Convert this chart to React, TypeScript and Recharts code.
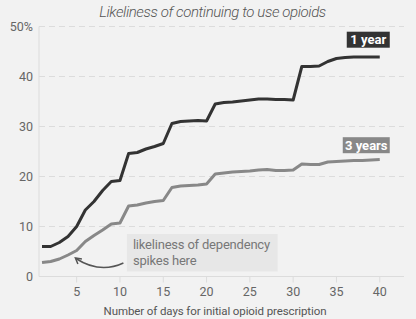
import { LineChart, Line, XAxis, YAxis, CartesianGrid, ReferenceArea, Label } from 'recharts';

const days = [
  1, 2, 3, 4, 5, 6, 7, 8, 9, 10, 11, 12, 13, 14, 15, 16, 17, 18, 19, 20,
  21, 22, 23, 24, 25, 26, 27, 28, 29, 30, 31, 32, 33, 34, 35, 36, 37, 38, 39, 40,
];
const oneYear = [
  6.0, 6.0, 6.8, 8.0, 10.0, 13.3, 15.0, 17.2, 19.0, 19.2,
  24.6, 24.8, 25.5, 26.0, 26.6, 30.6, 31.0, 31.1, 31.2, 31.1,
  34.5, 34.8, 34.9, 35.1, 35.3, 35.5, 35.5, 35.4, 35.4, 35.3,
  42.0, 42.0, 42.1, 43.0, 43.6, 43.8, 43.9, 43.9, 43.9, 43.9,
];
const threeYears = [
  2.8, 3.0, 3.5, 4.3, 5.2, 7.0, 8.2, 9.3, 10.5, 10.7,
  14.1, 14.3, 14.7, 15.0, 15.2, 17.8, 18.1, 18.2, 18.3, 18.5,
  20.5, 20.7, 20.9, 21.0, 21.1, 21.3, 21.4, 21.2, 21.2, 21.3,
  22.5, 22.4, 22.4, 22.9, 23.0, 23.1, 23.2, 23.2, 23.3, 23.4,
];
const xTicks = [5, 10, 15, 20, 25, 30, 35, 40];
const yTicks = [0, 10, 20, 30, 40, 50];

const data = days.map((day, i) => ({ day, oneYear: oneYear[i], threeYears: threeYears[i] }));

const FONT = 'Roboto, "Liberation Sans", sans-serif';

// tag drawn next to the last point of a series
const endTag = (text: string, fill: string, w: number, dy: number) => (props: any) => {
  const { cx, cy, index } = props;
  if (index !== days.length - 1) return <g key={index} />;
  return (
    <g key={index}>
      <rect x={cx + 10 - w} y={cy + dy - 16} width={w} height={16} fill={fill} />
      <text x={cx + 10 - w / 2} y={cy + dy - 3.5} textAnchor="middle" fill="#fff" fontSize={13} fontWeight={700} fontFamily={FONT}>
        {text}
      </text>
    </g>
  );
};

const Annotation = (props: any) => {
  const { x, y } = props.viewBox;
  return (
    <g fontFamily={FONT}>
      <text x={x + 6} y={y + 15} fill="#777" fontSize={13} letterSpacing={-0.2}>likeliness of dependency</text>
      <text x={x + 6} y={y + 30.5} fill="#777" fontSize={13} letterSpacing={-0.2}>spikes here</text>
      <path d={`M${x - 3.5} ${y + 29} Q${x - 27} ${y + 40} ${x - 51} ${y + 24.5}`} fill="none" stroke="#555" strokeWidth={1.5} />
      <path d={`M${x - 45} ${y + 25} L${x - 51.5} ${y + 24} L${x - 49} ${y + 30}`} fill="none" stroke="#555" strokeWidth={1.5} />
    </g>
  );
};

export default function App() {
  return (
    <div style={{ position: 'absolute', left: 0, top: 0, width: 416, height: 319, background: '#f2f2f2', fontFamily: FONT }}>
      <div style={{ position: 'absolute', top: 3, left: 0, width: 425, textAlign: 'center', fontSize: 15, letterSpacing: -0.4, fontStyle: 'italic', fontWeight: 300, color: '#555' }}>
        Likeliness of continuing to use opioids
      </div>
      <LineChart width={416} height={319} data={data} margin={{ top: 26.5, right: 12, bottom: 12.5, left: 0 }}>
        <CartesianGrid vertical={false} stroke="#dcdcdc" strokeDasharray="6 4" />
        <ReferenceArea x1={10.8} x2={28.2} y1={1} y2={8.5} fill="#e7e7e7" fillOpacity={1} stroke="none">
          <Label content={Annotation} />
        </ReferenceArea>
        <XAxis
          dataKey="day"
          type="number"
          domain={[0.65, 42.8]}
          ticks={xTicks}
          allowDataOverflow
          height={30}
          stroke="#dcdcdc"
          tickSize={6}
          tickMargin={5}
          tick={{ fill: '#666', fontSize: 12.5 }}
        >
          <Label value="Number of days for initial opioid prescription" position="insideBottom" offset={-8} dx={-6.5} fill="#555" fontSize={11.5} letterSpacing={-0.1} />
        </XAxis>
        <YAxis
          type="number"
          domain={[0, 50]}
          ticks={yTicks}
          width={39}
          stroke="#dcdcdc"
          tickLine={false}
          tickSize={0}
          tickMargin={6}
          tick={{ fill: '#666', fontSize: 12.5 }}
          tickFormatter={(v: number) => (v === 50 ? '50%' : String(v))}
        />
        <Line type="linear" dataKey="threeYears" stroke="#888" strokeWidth={3} strokeLinejoin="round" isAnimationActive={false} dot={endTag('3 years', '#888', 47, -6.3)} activeDot={false} />
        <Line type="linear" dataKey="oneYear" stroke="#333" strokeWidth={3} strokeLinejoin="round" isAnimationActive={false} dot={endTag('1 year', '#333', 43, -9.3)} activeDot={false} />
      </LineChart>
    </div>
  );
}
